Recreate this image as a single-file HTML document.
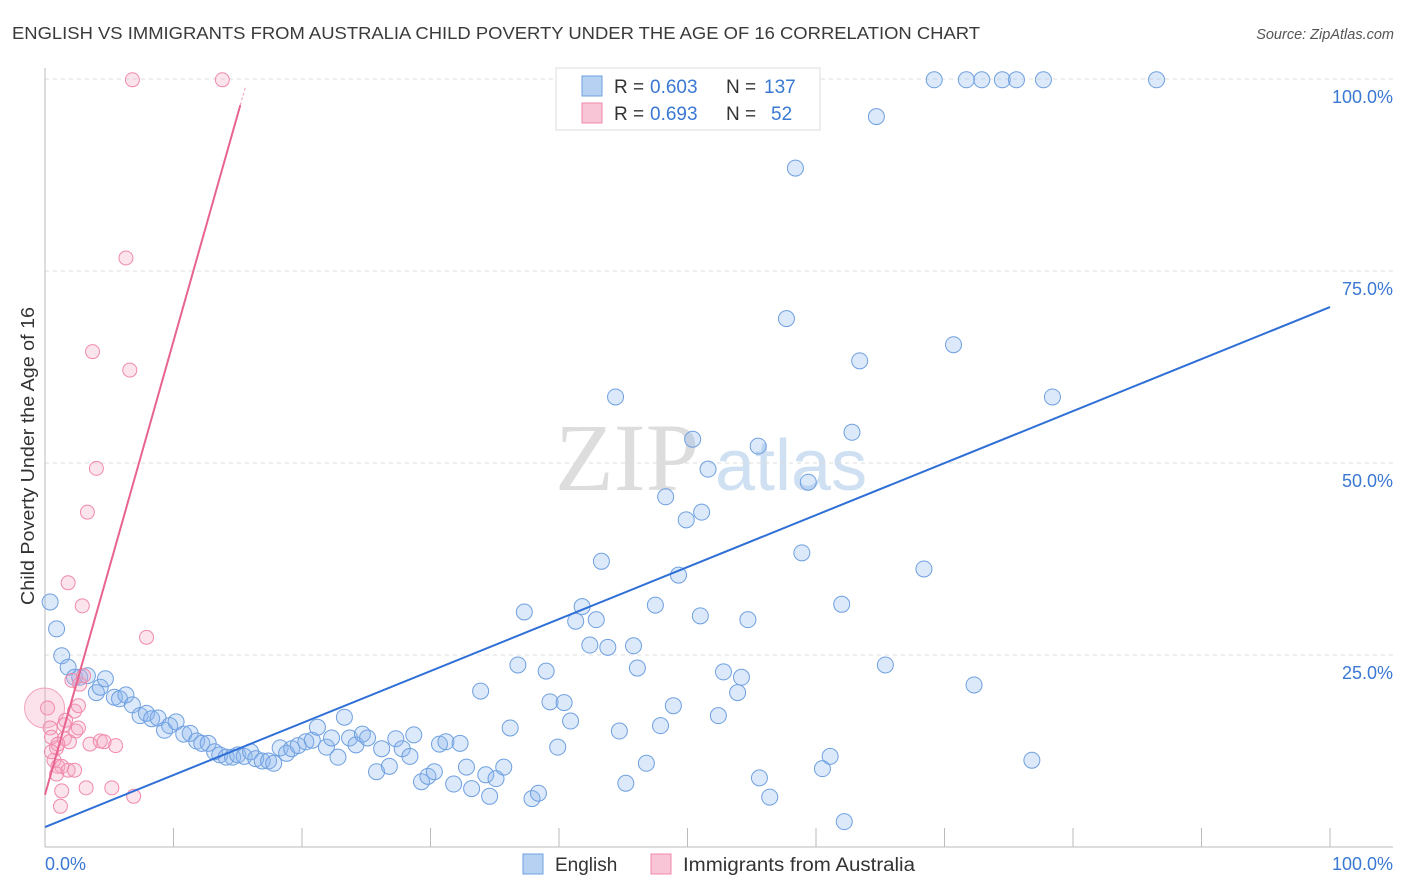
<!DOCTYPE html>
<html><head><meta charset="utf-8"><style>
body{margin:0;background:#fff;font-family:"Liberation Sans",sans-serif;}
svg{display:block}
</style></head><body>
<svg id="chart" width="1406" height="892">
<text x="12" y="39" font-size="17.5" fill="#3a3a3a" textLength="968" lengthAdjust="spacingAndGlyphs">ENGLISH VS IMMIGRANTS FROM AUSTRALIA CHILD POVERTY UNDER THE AGE OF 16 CORRELATION CHART</text>
<text x="1394" y="39" font-size="14.5" fill="#555" font-style="italic" text-anchor="end">Source: ZipAtlas.com</text>
<text x="34" y="456" font-size="18" fill="#333" text-anchor="middle" textLength="298" lengthAdjust="spacingAndGlyphs" transform="rotate(-90 34 456)">Child Poverty Under the Age of 16</text>
<g><text x="555" y="490" font-size="96" fill="#ddd" font-family="Liberation Serif,serif">ZIP</text><text x="715" y="490" font-size="72" fill="#cfe0f3">atlas</text></g>
<g id="grid"></g><g id="marks"></g>
<g>
<rect x="556" y="68" width="264" height="62" fill="#fff" stroke="#ddd"/>
<rect x="582" y="76" width="20" height="20" fill="#b7d1f3" stroke="#6fa0e0"/>
<rect x="582" y="103" width="20" height="20" fill="#f8c5d6" stroke="#f08aaa"/>
<text x="614" y="93" font-size="19" fill="#333">R =</text>
<text x="650" y="93" font-size="19" fill="#3a78d4">0.603</text>
<text x="726" y="93" font-size="19" fill="#333">N =</text>
<text x="764" y="93" font-size="19" fill="#3a78d4">137</text>
<text x="614" y="120" font-size="19" fill="#333">R =</text>
<text x="650" y="120" font-size="19" fill="#3a78d4">0.693</text>
<text x="726" y="120" font-size="19" fill="#333">N =</text>
<text x="771" y="120" font-size="19" fill="#3a78d4">52</text>
</g>
<g>
<rect x="523" y="854" width="20" height="20" fill="#b7d1f3" stroke="#6fa0e0"/>
<text x="555" y="871" font-size="19" fill="#333">English</text>
<rect x="651" y="854" width="20" height="20" fill="#f8c5d6" stroke="#f08aaa"/>
<text x="683" y="871" font-size="19" fill="#333" textLength="232" lengthAdjust="spacingAndGlyphs">Immigrants from Australia</text>
</g>
</svg>
<script>
const yTicks=[25,50,75,100];
const yTickLabels=["25.0%","50.0%","75.0%","100.0%"];
const xTicks=[0,10,20,30,40,50,60,70,80,90,100];
const englishX=[0.4,0.9,1.3,1.8,2.3,2.7,3.3,4.0,4.3,4.7,5.4,5.8,6.3,6.8,7.4,7.9,8.3,8.8,9.3,9.7,10.2,10.8,11.3,11.8,12.2,12.7,13.2,13.6,14.1,14.6,15.0,15.5,16.0,16.4,16.9,17.4,17.8,18.3,18.8,19.2,19.7,20.3,20.8,21.2,21.9,22.3,22.8,23.3,23.7,24.2,24.7,25.1,25.8,26.2,26.8,27.3,27.8,28.4,28.7,29.3,29.8,30.3,30.7,31.2,31.8,32.3,32.8,33.2,33.9,34.3,34.6,35.1,35.7,36.2,36.8,37.3,37.9,38.4,39.0,39.3,39.9,40.4,40.9,41.3,41.8,42.4,42.9,43.3,43.8,44.4,44.7,45.2,45.8,46.1,46.8,47.5,47.9,48.3,48.9,49.3,49.9,50.4,51.0,51.1,51.6,52.4,52.8,53.7,53.9,54.2,54.7,55.5,55.6,56.4,57.7,58.4,58.9,59.4,60.5,61.1,62.0,62.2,62.8,63.4,64.7,65.4,68.4,69.2,70.7,71.7,72.3,72.9,74.5,75.6,76.8,77.7,78.4,86.5];
const englishY=[31.9,28.4,24.9,23.4,22.1,22.1,22.3,20.1,20.8,21.9,19.5,19.3,19.8,18.5,17.1,17.4,16.7,16.8,15.2,15.8,16.3,14.7,14.8,13.8,13.5,13.5,12.4,12.0,11.7,11.7,12.0,11.8,12.4,11.5,11.2,11.2,10.9,12.9,12.2,12.8,13.2,13.7,13.9,15.6,13.0,14.2,11.7,16.9,14.2,13.3,14.7,14.2,9.8,12.8,10.5,14.1,12.8,11.8,14.6,8.5,9.2,9.8,13.4,13.7,8.2,13.5,10.4,7.6,20.3,9.4,6.6,8.9,10.4,15.5,23.7,30.6,6.3,7.0,22.9,18.9,13.0,18.8,16.4,29.4,31.3,26.3,29.6,37.2,26.0,58.6,15.1,8.3,26.2,23.3,10.9,31.5,15.8,45.6,18.4,35.4,42.6,53.1,30.1,43.6,49.2,17.1,22.8,99.9,20.1,22.1,29.6,52.2,9.0,6.5,68.8,88.4,38.3,47.5,10.2,11.8,31.6,3.3,54.0,63.3,95.1,23.7,36.2,99.9,65.4,99.9,21.1,99.9,99.9,99.9,11.3,99.9,58.6,99.9];
const ausX=[0.2,0.4,0.5,0.7,0.9,1.0,1.2,1.3,1.5,1.6,1.8,1.9,2.1,2.3,2.4,2.6,2.7,2.9,3.0,3.2,3.3,3.5,3.7,4.0,4.3,4.6,5.2,5.5,6.3,6.6,6.9,7.9,6.8,13.8,1.0,0.5,0.9,1.3,1.8,2.3,2.6,1.5];
const ausY=[18.1,15.5,14.3,11.3,12.9,10.5,5.3,10.5,14.1,16.5,34.4,13.7,21.7,17.7,15.1,15.5,21.2,31.4,22.3,7.7,43.6,13.4,64.5,49.3,13.8,13.7,7.7,13.2,76.7,62.1,6.6,27.3,99.9,99.9,13.4,12.4,9.5,7.3,10.0,10.0,18.4,15.9];
const englishFit=[2.6,70.3];
const ausFit=[6.8,96.6];
const ausFitEnd=15.2;
const X=v=>45+v*12.85, Y=v=>847-v*7.68;
const NS="http://www.w3.org/2000/svg";
const grid=document.getElementById('grid'), marks=document.getElementById('marks');
function mk(p,tag,a){const e=document.createElementNS(NS,tag);for(const k in a)e.setAttribute(k,a[k]);p.appendChild(e);return e;}
yTicks.forEach((t,i)=>{
 const l=mk(grid,'line',{x1:45,x2:1393,y1:Y(t),y2:Y(t),stroke:'#ddd','stroke-dasharray':'4 4'});
 
 
 const tx=mk(grid,'text',{x:1393,y:Y(t)+24,'text-anchor':'end','font-size':18,fill:'#3a78d4'});
 tx.textContent=yTickLabels[i];
 
 
});
const ax=mk(grid,'line',{x1:45,x2:45,y1:68,y2:847,stroke:'#bbb'});


const bx=mk(grid,'line',{x1:45,x2:1393,y1:847,y2:847,stroke:'#bbb'});


xTicks.forEach(t=>{
 const l=mk(grid,'line',{x1:X(t),x2:X(t),y1:828,y2:847,stroke:'#bbb'});
 
 
});
const x0=mk(grid,'text',{x:45,y:870,'font-size':18,fill:'#3a78d4'});x0.textContent='0.0%';


const x1=mk(grid,'text',{x:1393,y:870,'font-size':18,fill:'#3a78d4','text-anchor':'end'});x1.textContent='100.0%';


const big=mk(marks,'circle',{cx:X(ausX[0])-3,cy:Y(ausY[0]),r:20,fill:'rgba(245,160,190,0.3)',stroke:'#f3a3bd'});


englishX.forEach((v,i)=>{
 const c=mk(marks,'circle',{cx:X(v),cy:Y(englishY[i]),r:8,fill:'rgba(140,182,238,0.3)',stroke:'#6fa0e0','stroke-width':1});
 
 
});
ausX.forEach((v,i)=>{
 const c=mk(marks,'circle',{cx:X(v),cy:Y(ausY[i]),r:7,fill:'rgba(245,165,195,0.3)',stroke:'#f08aaa','stroke-width':1});
 
 
});
const bl=mk(marks,'line',{x1:X(0),y1:Y(englishFit[0]),x2:X(100),y2:Y(englishFit[1]),stroke:'#2f6fd6','stroke-width':2});


const slope=(ausFit[1]-ausFit[0])/ausFitEnd;
const pl=mk(marks,'line',{x1:X(0),y1:Y(ausFit[0]),x2:X(ausFitEnd),y2:Y(ausFit[1]),stroke:'#e8648f','stroke-width':2});


const pd=mk(marks,'line',{x1:X(ausFitEnd),y1:Y(ausFit[1]),x2:X(ausFitEnd+0.4),y2:Y(ausFit[1]+slope*0.4),stroke:'#e8a0b8','stroke-width':1,'stroke-dasharray':'3 2'});


</script>
</body></html>
